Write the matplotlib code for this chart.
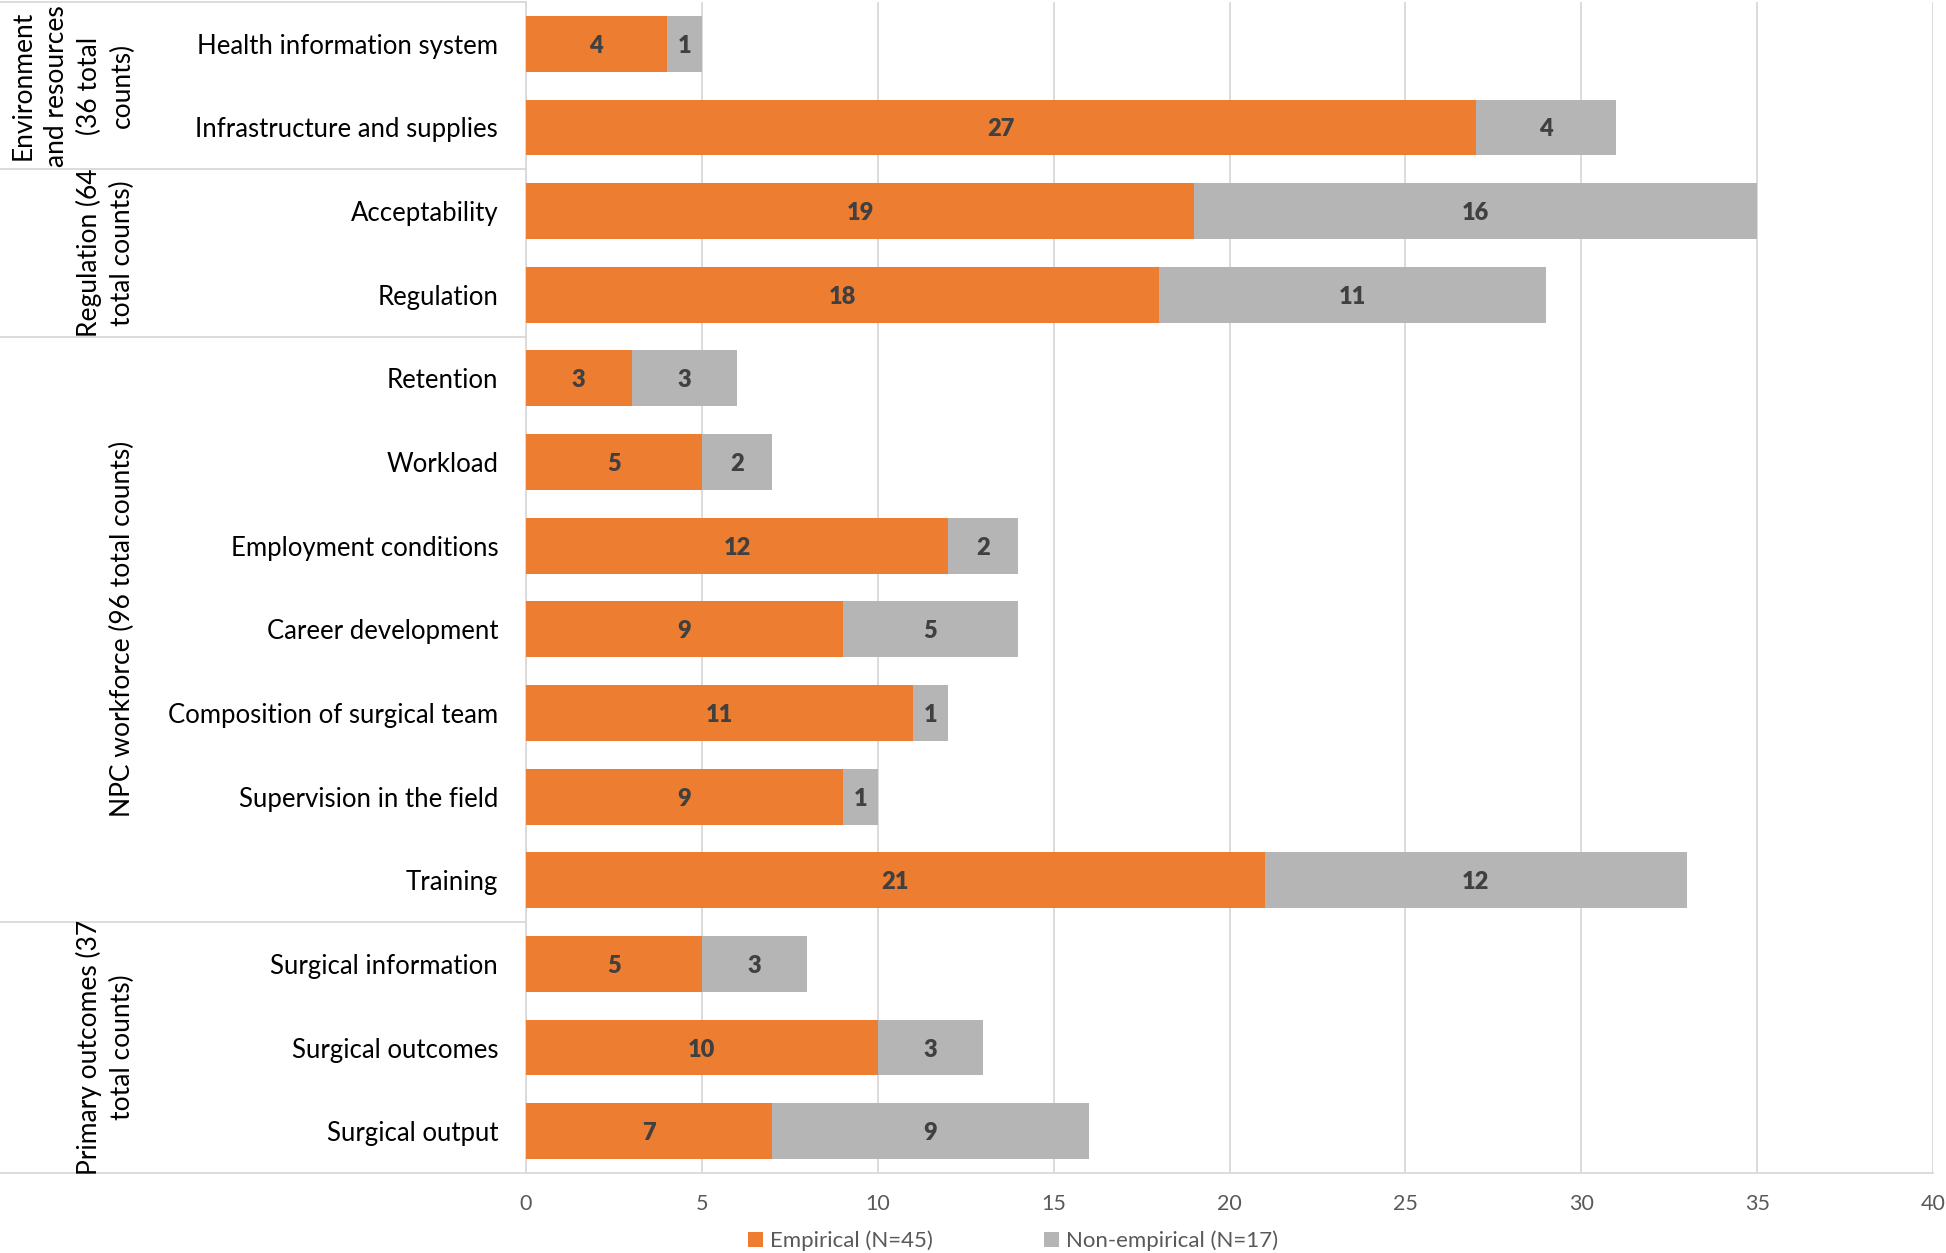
import matplotlib.pyplot as plt
import matplotlib.transforms as mtransforms
import numpy as np

plt.rcParams['font.family'] = ['Lato', 'DejaVu Sans']

categories = [
    "Health information system", "Infrastructure and supplies",
    "Acceptability", "Regulation",
    "Retention", "Workload", "Employment conditions", "Career development",
    "Composition of surgical team", "Supervision in the field", "Training",
    "Surgical information", "Surgical outcomes", "Surgical output",
]
empirical = [4, 27, 19, 18, 3, 5, 12, 9, 11, 9, 21, 5, 10, 7]
non_empirical = [1, 4, 16, 11, 3, 2, 2, 5, 1, 1, 12, 3, 3, 9]

groups = [
    "Environment\nand resources\n(36 total\ncounts)",
    "Regulation (64\ntotal counts)",
    "NPC workforce (96 total counts)",
    "Primary outcomes (37\ntotal counts)",
]
group_sizes = [2, 2, 7, 3]

orange = "#ED7D31"
grey = "#B5B5B5"
line_c = "#D9D9D9"

fig = plt.figure(figsize=(19.46, 12.53), dpi=100)
ax = fig.add_axes([526 / 1946, 1 - 1173 / 1253, (1933 - 526) / 1946, (1173 - 2) / 1253])

y = np.arange(len(categories))
h = 0.667
ax.barh(y, empirical, height=h, color=orange, label="Empirical (N=45)", zorder=3)
ax.barh(y, non_empirical, left=empirical, height=h, color=grey,
        label="Non-empirical (N=17)", zorder=3)

for i in range(len(categories)):
    ax.text(empirical[i] / 2, y[i], str(empirical[i]), ha='center',
            va='center_baseline', fontsize=17, fontweight='heavy',
            color='#404040', zorder=4)
    ax.text(empirical[i] + non_empirical[i] / 2, y[i], str(non_empirical[i]),
            ha='center', va='center_baseline', fontsize=17, fontweight='heavy',
            color='#404040', zorder=4)

ax.set_xlim(0, 40)
ax.set_ylim(len(categories) - 0.5, -0.5)
ax.set_xticks(range(0, 41, 5))
ax.set_yticks(y)
ax.set_yticklabels(categories, fontsize=18.5)
ax.tick_params(axis='y', length=0, pad=20)
ax.tick_params(axis='x', length=0, pad=15, labelsize=15.5, labelcolor='#595959')
ax.grid(axis='x', color=line_c, linewidth=1.3, zorder=0)
for s in ['top', 'right', 'bottom']:
    ax.spines[s].set_visible(False)
ax.spines['left'].set_color(line_c)
ax.spines['left'].set_linewidth(1.3)

# multi-level category lines and labels on the left
tr = mtransforms.blended_transform_factory(fig.transFigure, ax.transData)
x_axis0 = 526 / 1946
bounds = [-0.5] + list(np.cumsum(group_sizes) - 0.5)
for b in bounds[:-1]:
    ax.plot([0, x_axis0], [b, b], transform=tr, color=line_c, lw=1.3, clip_on=False)
ax.plot([0, 1933 / 1946], [bounds[-1]] * 2, transform=tr, color=line_c, lw=1.3,
        clip_on=False)
for g, lo, hi in zip(groups, bounds[:-1], bounds[1:]):
    ax.text(135 / 1946, (lo + hi) / 2, g, transform=tr, rotation=90,
            ha='right', va='center', multialignment='center', fontsize=19,
            linespacing=1.4)

fig.legend(loc='center', bbox_to_anchor=(1013 / 1946, 1 - 1241 / 1253), ncol=2,
           frameon=False, fontsize=16, handlelength=0.7, handleheight=0.7,
           handletextpad=0.3, columnspacing=5, labelcolor='#595959')

fig.savefig("out.png", dpi=100)
